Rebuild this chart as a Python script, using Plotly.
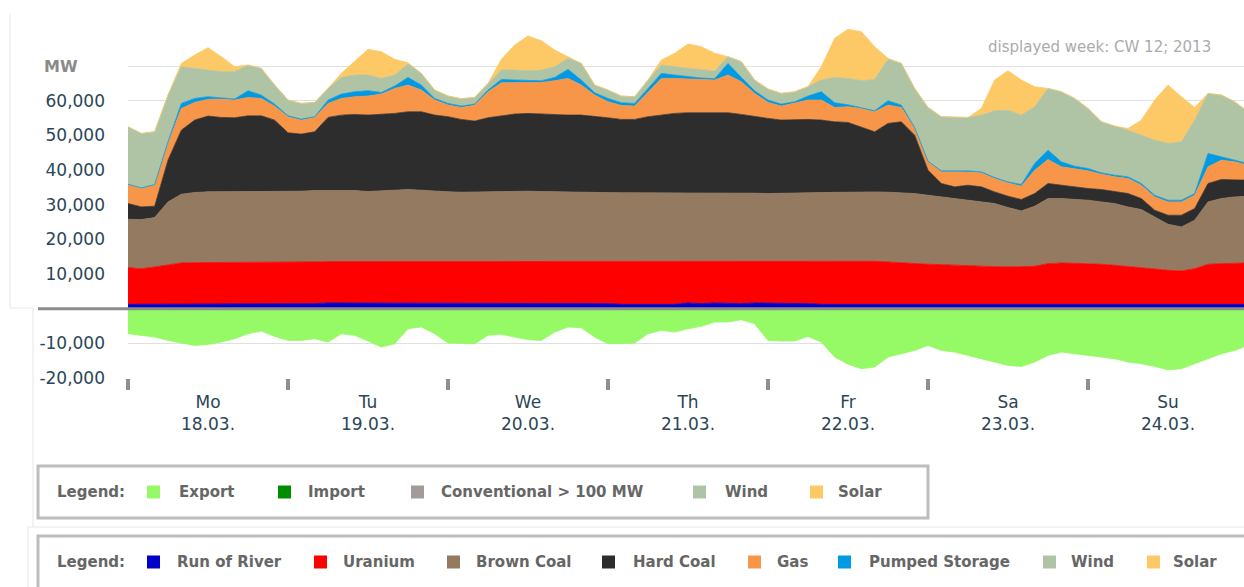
import pandas as pd
import plotly.graph_objects as go

# one sample every 2 hours, Mon 18.03.2013 00:00 .. Mon 25.03.2013 00:00
times = pd.date_range("2013-03-18 00:00", periods=85, freq="2h")

day_names = ["Mo", "Tu", "We", "Th", "Fr", "Sa", "Su"]
day_dates = ["18.03.", "19.03.", "20.03.", "21.03.", "22.03.", "23.03.", "24.03."]

y_ticks = [-20000, -10000, 0, 10000, 20000, 30000, 40000, 50000, 60000, 70000]
y_tick_text = ["-20,000", "-10,000", "", "10,000", "20,000", "30,000", "40,000",
               "50,000", "60,000", ""]

# MW, one line per day (12 values) + final midnight value
run_of_river = [
    1250, 1250, 1250, 1250, 1250, 1250, 1250, 1250, 1250, 1250, 1250, 1250,
    1250, 1250, 1450, 1640, 1640, 1640, 1640, 1640, 1640, 1640, 1640, 1640,
    1640, 1640, 1640, 1640, 1450, 1450, 1450, 1450, 1450, 1450, 1450, 1450,
    1450, 1250, 1250, 1250, 1250, 1250, 1640, 1450, 1640, 1450, 1450, 1640,
    1640, 1640, 1640, 1450, 1250, 1250, 1250, 1250, 1250, 1250, 1250, 1250,
    1250, 1250, 1250, 1250, 1250, 1250, 1250, 1250, 1250, 1250, 1250, 1250,
    1250, 1250, 1250, 1250, 1250, 1250, 1250, 1250, 1250, 1250, 1250, 1250,
    1250,
]
uranium = [
    10590, 10300, 10790, 11270, 11940, 12040, 12040, 12040, 12040, 12130, 12130, 12130,
    12230, 12230, 12040, 11940, 11940, 11940, 12040, 12040, 12040, 12040, 12040, 12040,
    12040, 12040, 12040, 12040, 12130, 12130, 12130, 12130, 12130, 12130, 12130, 12130,
    12130, 12330, 12330, 12330, 12330, 12330, 11940, 12130, 11940, 12130, 12130, 11940,
    11940, 11940, 11940, 12130, 12330, 12420, 12520, 12520, 12420, 12230, 11940, 11750,
    11560, 11460, 11270, 11070, 10980, 10880, 10790, 10790, 10980, 11750, 11940, 11840,
    11750, 11560, 11270, 10980, 10590, 10210, 9820, 9630, 10300, 11560, 11750, 11750,
    11940,
]
brown_coal = [
    13960, 14160, 14250, 18300, 19840, 20220, 20420, 20420, 20420, 20510, 20510, 20510,
    20420, 20420, 20610, 20510, 20510, 20510, 20130, 20320, 20510, 20700, 20510, 20220,
    20030, 19930, 20030, 20130, 20320, 20320, 20320, 20220, 20130, 20130, 20130, 20030,
    19930, 19840, 19840, 19840, 19840, 19840, 19840, 19840, 19930, 19930, 19840, 19740,
    19650, 19650, 19740, 19840, 19930, 19930, 19930, 19930, 20030, 20130, 20220, 20220,
    19930, 19550, 19260, 18970, 18590, 18200, 17140, 16180, 17330, 18780, 18590, 18490,
    18300, 18010, 17820, 17140, 16760, 15020, 13290, 12710, 13960, 18010, 18780, 19260,
    19260,
]
hard_coal = [
    4530, 3660, 3270, 12040, 18490, 20900, 21860, 21470, 21380, 21760, 21760, 20510,
    16850, 16470, 16950, 21090, 21760, 21960, 22050, 22050, 22150, 22440, 22630, 21960,
    21670, 20990, 20420, 21280, 21670, 22250, 22440, 22340, 22150, 22150, 22150, 21760,
    21570, 21190, 21190, 21960, 22440, 22920, 23110, 23110, 23020, 23020, 22630, 22050,
    21670, 21190, 21280, 21190, 20900, 20320, 20030, 18780, 17330, 19840, 20510, 16850,
    7220, 3850, 3370, 4330, 4330, 3370, 3270, 3270, 3660, 4330, 3850, 3370,
    3370, 3560, 3370, 3850, 3180, 1930, 2600, 3370, 3370, 5300, 5490, 5010,
    4620,
]
gas = [
    5490, 5300, 6070, 4820, 6260, 5100, 4820, 5300, 5100, 5300, 5010, 4040,
    4620, 4040, 4140, 4040, 4820, 5100, 5490, 5870, 7220, 7700, 6260, 4330,
    3370, 3470, 4620, 7510, 9630, 9050, 8860, 9150, 9920, 10590, 8670, 6260,
    4620, 4040, 3850, 7220, 10590, 10110, 9820, 9630, 9440, 10880, 9440, 6740,
    4620, 4040, 4620, 5590, 5780, 4140, 4530, 5300, 5780, 5300, 4140, 1930,
    2410, 3370, 4330, 3850, 4040, 3850, 3850, 3850, 6740, 6930, 5300, 5490,
    5100, 4430, 4330, 4330, 3850, 3850, 3850, 3850, 3850, 4820, 5590, 5100,
    4330,
]
pumped_storage = [
    100, 190, 190, 480, 1440, 1160, 770, 390, 290, 1930, 960, 580,
    290, 290, 190, 960, 1250, 1440, 1540, 480, 670, 2210, 1440, 480,
    480, 390, 290, 480, 960, 770, 580, 480, 960, 2600, 1440, 670,
    960, 770, 770, 960, 1440, 960, 580, 390, 390, 3370, 1250, 770,
    670, 580, 480, 1160, 2410, 1350, 580, 290, 290, 1250, 670, 290,
    190, 290, 290, 290, 290, 290, 290, 480, 1930, 2700, 1440, 670,
    670, 390, 480, 480, 480, 480, 480, 480, 480, 3850, 960, 480,
    480,
]
wind = [
    16560, 15700, 15220, 13480, 10590, 8670, 7700, 7510, 7900, 7420, 7700, 5490,
    4530, 4530, 4140, 3370, 4820, 4820, 4530, 4040, 3180, 3850, 3370, 2410,
    2120, 2120, 1930, 1930, 2700, 2890, 2890, 3080, 3080, 3180, 4820, 2210,
    2410, 1930, 1930, 2410, 2410, 2410, 2410, 2500, 2210, 1930, 4530, 3080,
    3180, 3080, 2890, 2700, 3370, 7320, 7610, 7700, 9050, 11940, 12040, 11270,
    15500, 15600, 15600, 15410, 16370, 19260, 20700, 20030, 16370, 17820, 20220, 19550,
    17330, 14730, 14160, 13480, 13960, 15890, 16370, 16850, 21190, 17330, 17820, 16850,
    14930,
]
solar = [
    0, 0, 0, 0, 960, 3850, 6450, 4330, 1440, 0, 0, 0,
    0, 0, 0, 0, 1160, 3850, 7420, 7700, 4530, 390, 0, 0,
    0, 0, 0, 0, 3080, 7220, 10020, 8470, 4820, 480, 0, 0,
    0, 0, 0, 0, 1440, 3850, 7030, 6550, 5100, 0, 0, 0,
    0, 0, 0, 0, 3850, 11270, 14160, 14160, 9440, 290, 0, 0,
    0, 0, 0, 0, 1930, 8860, 11360, 10110, 5780, 0, 0, 0,
    0, 0, 0, 480, 4330, 11560, 16850, 13000, 3660, 0, 0, 0,
    0,
]
export = [
    -7220, -7700, -8190, -9150, -9920, -10590, -10300, -9630, -8670, -7220, -6450, -7990,
    -9150, -9150, -8670, -9630, -7220, -7700, -9340, -11070, -10110, -5780, -5300, -7220,
    -9920, -9920, -10110, -7700, -7410, -8190, -8960, -9150, -6740, -5300, -5490, -8190,
    -10110, -10110, -9920, -7220, -6260, -6740, -5780, -5100, -3850, -3850, -3180, -4330,
    -9150, -9340, -9340, -7990, -9630, -13960, -16000, -17330, -16850, -13960, -13000, -12040,
    -10590, -12040, -12520, -13480, -14450, -15410, -16370, -16660, -15410, -13480, -12520, -13000,
    -13480, -13960, -14450, -15410, -15890, -16660, -17620, -17330, -15890, -14450, -13000, -12040,
    -10590,
]

COLORS = {
    "Export": "#96f966",
    "Import": "#008e00",
    "Conventional > 100 MW": "#a29b99",
    "Run of River": "#0000c8",
    "Uranium": "#ff0000",
    "Brown Coal": "#937a60",
    "Hard Coal": "#2d2d2d",
    "Gas": "#f79548",
    "Pumped Storage": "#0099e3",
    "Wind": "#aec4a4",
    "Solar": "#fdc966",
}

stack = [
    ("Run of River", run_of_river),
    ("Uranium", uranium),
    ("Brown Coal", brown_coal),
    ("Hard Coal", hard_coal),
    ("Gas", gas),
    ("Pumped Storage", pumped_storage),
    ("Wind", wind),
    ("Solar", solar),
]

FONT = "DejaVu Sans"
W, H = 1244, 587
L, T, B = 128, 20, 209
PW, PH = W - L, H - T - B


def px(x):
    return (x - L) / PW


def py(y):
    return (H - B - y) / PH


fig = go.Figure()
for name, vals in stack:
    c = COLORS[name]
    fig.add_trace(go.Scatter(
        x=times, y=vals, name=name, mode="lines", stackgroup="pos",
        line={"color": c, "width": 0.8}, fillcolor=c, hoverinfo="skip",
    ))
fig.add_trace(go.Scatter(
    x=times, y=export, name="Export", mode="lines", stackgroup="neg",
    line={"color": COLORS["Export"], "width": 0.8}, fillcolor=COLORS["Export"],
    hoverinfo="skip",
))

days = pd.date_range("2013-03-18", periods=7, freq="D")
noons = [d + pd.Timedelta(hours=12) for d in days]

fig.update_layout(
    width=W, height=H,
    margin={"l": L, "r": 0, "t": T, "b": B},
    plot_bgcolor="white", paper_bgcolor="white",
    showlegend=False,
    font={"family": FONT},
    xaxis={
        "type": "date",
        "range": ["2013-03-18 00:00", "2013-03-24 23:24"],
        "tickvals": noons,
        "ticktext": [f"{n}<br>{d}" for n, d in zip(day_names, day_dates)],
        "ticks": "",
        "ticklabelstandoff": 12,
        "tickfont": {"size": 17, "color": "#2b4656"},
        "showgrid": False, "zeroline": False, "showline": False,
        "minor": {"tickvals": list(days), "ticks": "outside", "ticklen": 11,
                  "tickwidth": 4, "tickcolor": "#8f8f8f", "showgrid": False},
        "automargin": False,
    },
    yaxis={
        "range": [-20000, 83300],
        "tickvals": y_ticks,
        "ticktext": y_tick_text,
        "ticklabelstandoff": 22,
        "tickfont": {"size": 17, "color": "#2b4656"},
        "gridcolor": "#e0e0e0", "gridwidth": 1,
        "zeroline": False, "showline": False,
        "automargin": False,
    },
)

shapes = []
annotations = []

# faint screenshot frame lines
for x0, y0, x1, y1 in [(10, 14, 10, 308), (10, 308, 33, 308), (33, 308, 33, 527),
                       (28, 527, 1244, 527), (28, 527, 28, 587)]:
    shapes.append({"type": "line", "xref": "paper", "yref": "paper",
                   "x0": px(x0), "x1": px(x1), "y0": py(y0), "y1": py(y1),
                   "line": {"color": "#e6e6e6", "width": 1}, "layer": "below"})

# zero line reaching out under the axis labels
shapes.append({"type": "line", "xref": "paper", "yref": "y",
               "x0": px(38), "x1": 1, "y0": 0, "y1": 0,
               "line": {"color": "#8c8c8c", "width": 3}, "layer": "above"})

annotations.append({"text": "<b>MW</b>", "xref": "paper", "yref": "y",
                    "x": px(42), "y": 70000, "xanchor": "left", "yanchor": "middle",
                    "showarrow": False, "font": {"size": 16, "color": "#8a8a8a"}})
annotations.append({"text": "displayed week: CW 12; 2013", "xref": "paper", "yref": "paper",
                    "x": px(1213), "y": py(47), "xanchor": "right", "yanchor": "middle",
                    "showarrow": False, "font": {"size": 15, "color": "#ababab"}})

legend_rows = [
    (466, 518, 928, [("Export", 147, 177), ("Import", 278, 306),
                     ("Conventional > 100 MW", 411, 439), ("Wind", 693, 723),
                     ("Solar", 810, 836)]),
    (536, 600, 1260, [("Run of River", 147, 175), ("Uranium", 314, 341),
                      ("Brown Coal", 447, 474), ("Hard Coal", 602, 631),
                      ("Gas", 748, 775), ("Pumped Storage", 838, 867),
                      ("Wind", 1043, 1069), ("Solar", 1147, 1171)]),
]
for top, bottom, right, items in legend_rows:
    shapes.append({"type": "rect", "xref": "paper", "yref": "paper",
                   "x0": px(38), "x1": px(right), "y0": py(top), "y1": py(bottom),
                   "line": {"color": "#bdbdbd", "width": 3}, "fillcolor": "white",
                   "layer": "below"})
    mid = (top + 26) if bottom > 590 else (top + bottom) / 2
    annotations.append({"text": "<b>Legend:</b>", "xref": "paper", "yref": "paper",
                        "x": px(55), "y": py(mid), "xanchor": "left", "yanchor": "middle",
                        "showarrow": False, "font": {"size": 15, "color": "#666666"}})
    for name, sq_x, tx in items:
        shapes.append({"type": "rect", "xref": "paper", "yref": "paper",
                       "x0": px(sq_x), "x1": px(sq_x + 13),
                       "y0": py(mid - 6.5), "y1": py(mid + 6.5),
                       "line": {"width": 0}, "fillcolor": COLORS[name]})
        annotations.append({"text": f"<b>{name}</b>", "xref": "paper", "yref": "paper",
                            "x": px(tx), "y": py(mid), "xanchor": "left",
                            "yanchor": "middle", "showarrow": False,
                            "font": {"size": 15, "color": "#666666"}})

fig.update_layout(shapes=shapes, annotations=annotations)

# the page body has a default 8px margin; drop it so the figure sits at 0,0
fig.write_html("out.html", config={"displayModeBar": False},
               post_script="document.body.style.margin='0px';")
